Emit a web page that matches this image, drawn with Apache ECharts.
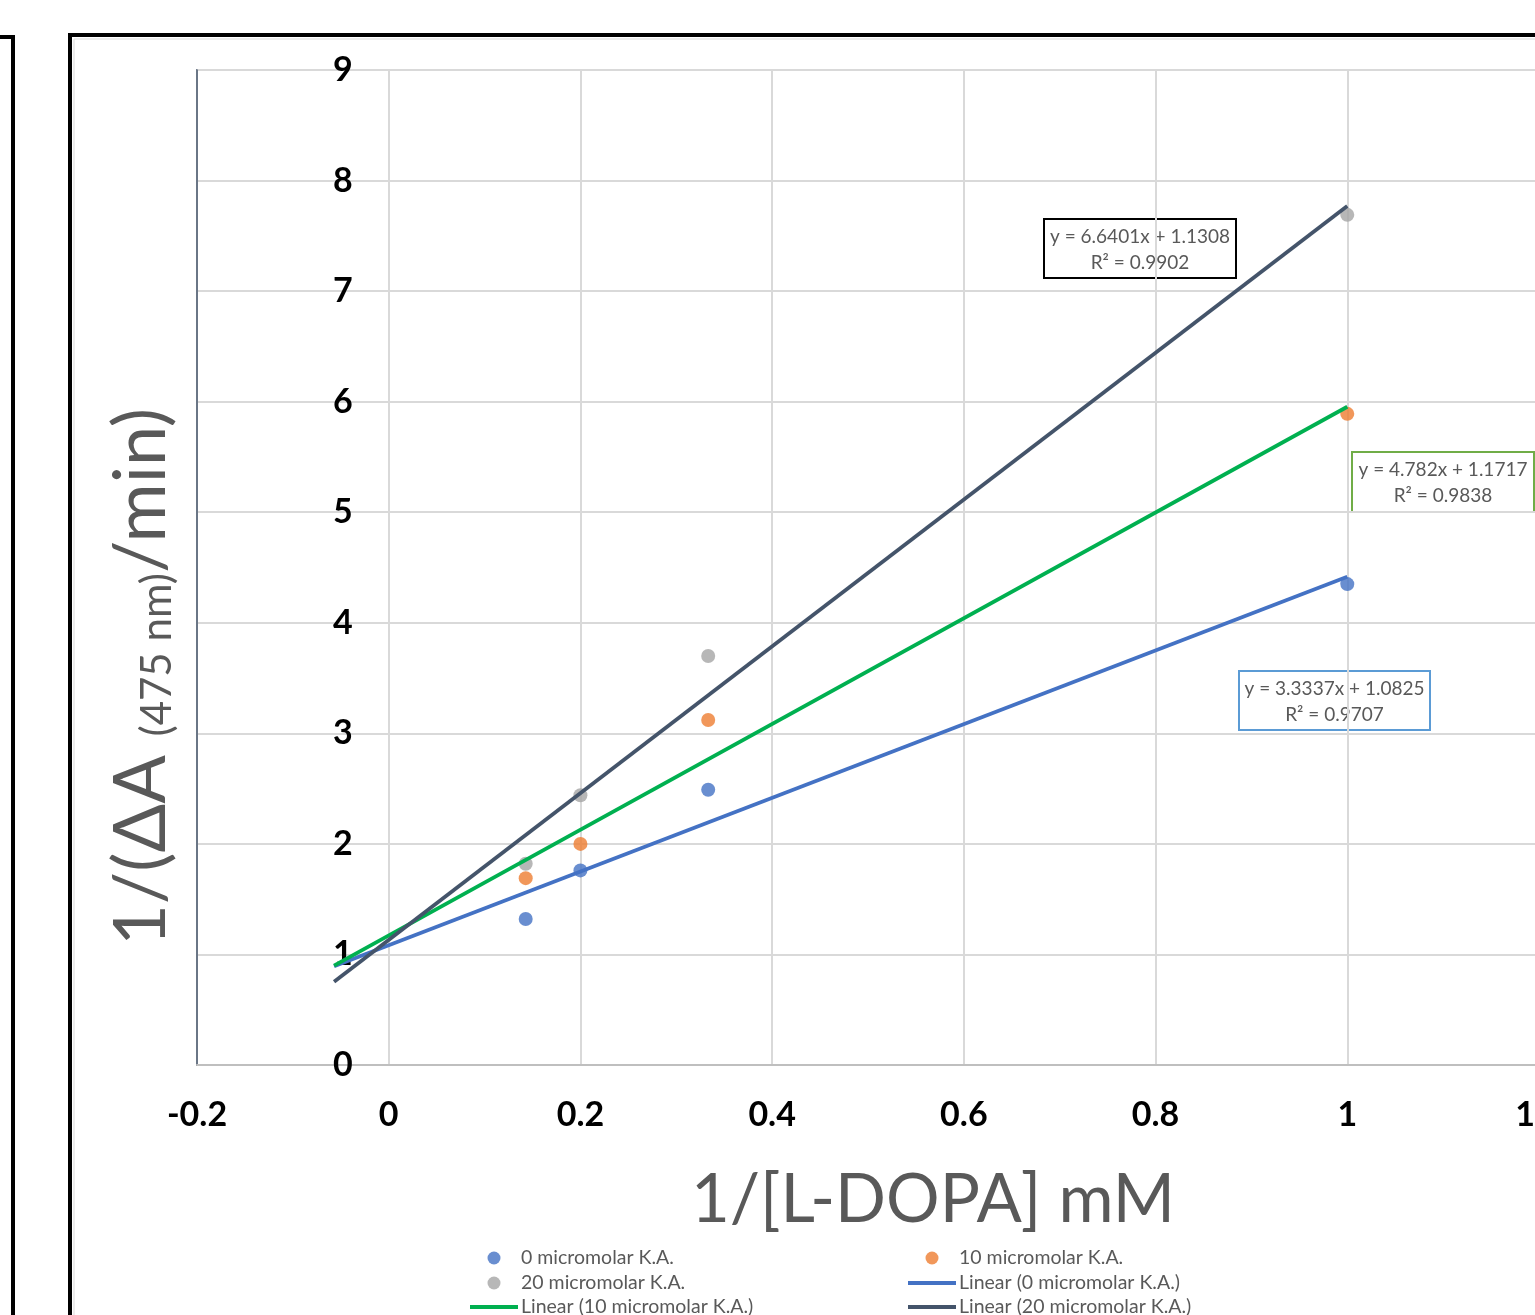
<!DOCTYPE html>
<html>
<head>
<meta charset="utf-8">
<script src="https://cdn.jsdelivr.net/npm/echarts@6/dist/echarts.min.js"></script>
<style>
  html, body { margin: 0; padding: 0; background: #fff; }
  #main { width: 1535px; height: 1315px; }
</style>
</head>
<body>
<div id="main"></div>
<script>
// 1/[L-DOPA] (mM^-1)
var xValues = [0.1429, 0.2, 0.3333, 1];
// 1/(dA/min) for each kojic acid concentration
var ka0 = [1.32, 1.76, 2.49, 4.35];
var ka10 = [1.69, 2.00, 3.12, 5.89];
var ka20 = [1.82, 2.44, 3.70, 7.69];

// trendlines as printed on the chart
var slopes = [3.3337, 4.782, 6.6401];
var intercepts = [1.0825, 1.1717, 1.1308];
var r2 = ['0.9707', '0.9838', '0.9902'];
var trendRange = [-0.057, 1];

var seriesNames = ['0 micromolar K.A.', '10 micromolar K.A.', '20 micromolar K.A.'];
var pointColors = ['#4472c4', '#ed7d31', '#a5a5a5'];
var lineColors = ['#4472c4', '#00b050', '#44546a'];

function pairs(ys) {
  return xValues.map(function (x, i) { return [x, ys[i]]; });
}
function trend(i) {
  return trendRange.map(function (x) { return [x, intercepts[i] + slopes[i] * x]; });
}

var font = 'Lato, "Open Sans", sans-serif';
var grey = '#595959';

var series = [];
[ka0, ka10, ka20].forEach(function (ys, i) {
  series.push({
    name: seriesNames[i],
    type: 'scatter',
    data: pairs(ys),
    symbolSize: 14,
    itemStyle: { color: pointColors[i] }
  });
});
[0, 1, 2].forEach(function (i) {
  series.push({
    name: 'Linear (' + seriesNames[i] + ')',
    type: 'line',
    data: trend(i),
    symbol: 'none',
    lineStyle: { color: lineColors[i], width: 3.8 },
    itemStyle: { color: lineColors[i] }
  });
});

// equation boxes: [left, top, width, height, border]
var eqBoxes = [
  [1238, 670, 191, 59, '#5b9bd5'],
  [1351, 451, 182, 60, '#70ad47'],
  [1043, 218, 192, 59, '#000000']
];
var graphics = [];
eqBoxes.forEach(function (b, i) {
  graphics.push({
    type: 'group', left: b[0], top: b[1],
    children: [
      { type: 'rect', shape: { x: 0, y: 0, width: b[2], height: b[3] },
        style: { fill: '#fff', stroke: b[4], lineWidth: 2 } },
      { type: 'text', x: b[2] / 2, y: 18,
        style: { text: 'y = ' + slopes[i] + 'x + ' + intercepts[i], fill: grey, font: '19px ' + font,
                 textAlign: 'center', textVerticalAlign: 'middle' } },
      { type: 'text', x: b[2] / 2, y: 44,
        style: { text: 'R² = ' + r2[i], fill: grey, font: '19px ' + font,
                 textAlign: 'center', textVerticalAlign: 'middle' } }
    ]
  });
});

// frames of the surrounding figure
graphics.push(
  { type: 'polyline', shape: { points: [[0, 37], [13, 37], [13, 1315]] },
    style: { stroke: '#000', lineWidth: 4, fill: null } },
  { type: 'polyline', shape: { points: [[70, 1315], [70, 35], [1535, 35]] },
    style: { stroke: '#000', lineWidth: 4, fill: null } },
  { type: 'polyline', shape: { points: [[74, 1315], [74, 39], [1535, 39]] },
    style: { stroke: '#d9d9d9', lineWidth: 1, fill: null } },
  { type: 'text', x: 142, y: 677, rotation: Math.PI / 2,
    style: { text: '{a|1/(ΔA }{b|(475 nm)}{a|/min)}', fill: grey, textAlign: 'center', textVerticalAlign: 'middle',
             rich: {
               a: { fontSize: 72, fontFamily: font, fill: grey },
               b: { fontSize: 42, fontFamily: font, fill: grey, verticalAlign: 'bottom' }
             } } },
  { type: 'text', x: 933, y: 1200,
    style: { text: '1/[L-DOPA] mM', fill: grey, font: '67px ' + font,
             textAlign: 'center', textVerticalAlign: 'middle' } }
);

// legend laid out like the original: two columns, three rows
var legendSlots = [
  [seriesNames[0], 470, 1258, 'circle'],
  [seriesNames[1], 908, 1258, 'circle'],
  [seriesNames[2], 470, 1283, 'circle'],
  ['Linear (' + seriesNames[0] + ')', 908, 1283, 'rect'],
  ['Linear (' + seriesNames[1] + ')', 470, 1307, 'rect'],
  ['Linear (' + seriesNames[2] + ')', 908, 1307, 'rect']
];
var legends = legendSlots.map(function (s) {
  var dot = s[3] === 'circle';
  return {
    left: dot ? s[1] + 17.5 : s[1], top: s[2] - 12, padding: 0,
    itemWidth: dot ? 13 : 48, itemHeight: dot ? 13 : 4, itemGap: 0,
    icon: s[3],
    textStyle: { fontSize: 19.5, fontFamily: font, color: grey, lineHeight: 24,
                 padding: [0, 0, 0, dot ? 15.5 : -2] },
    data: [s[0]]
  };
});

var option = {
  animation: false,
  backgroundColor: '#fff',
  grid: { left: 197, top: 70, width: 1342, height: 995, show: true, outerBoundsMode: 'none',
          containLabel: false, borderColor: '#44546a', borderWidth: 1.5 },
  xAxis: {
    type: 'value', min: -0.2, max: 1.2, interval: 0.2,
    axisLine: { show: true, onZero: false, lineStyle: { color: '#bfbfbf', width: 2 } },
    axisTick: { show: false },
    splitLine: { lineStyle: { color: '#d9d9d9', width: 2 } },
    axisLabel: { margin: 33, fontSize: 34, fontWeight: 'bold', fontFamily: font, color: '#000',
                 formatter: function (v) { return String(Math.round(v * 10) / 10); } }
  },
  yAxis: {
    type: 'value', min: 0, max: 9, interval: 1,
    axisLine: { show: true, onZero: false, lineStyle: { color: '#44546a', width: 1.5 } },
    axisTick: { show: false },
    splitLine: { lineStyle: { color: '#d9d9d9', width: 2 } },
    axisLabel: { inside: true, margin: 136, fontSize: 34, fontWeight: 'bold', fontFamily: font, color: '#000' }
  },
  legend: legends,
  graphic: graphics,
  series: series
};

var chart = echarts.init(document.getElementById('main'));
chart.setOption(option);
</script>
</body>
</html>
